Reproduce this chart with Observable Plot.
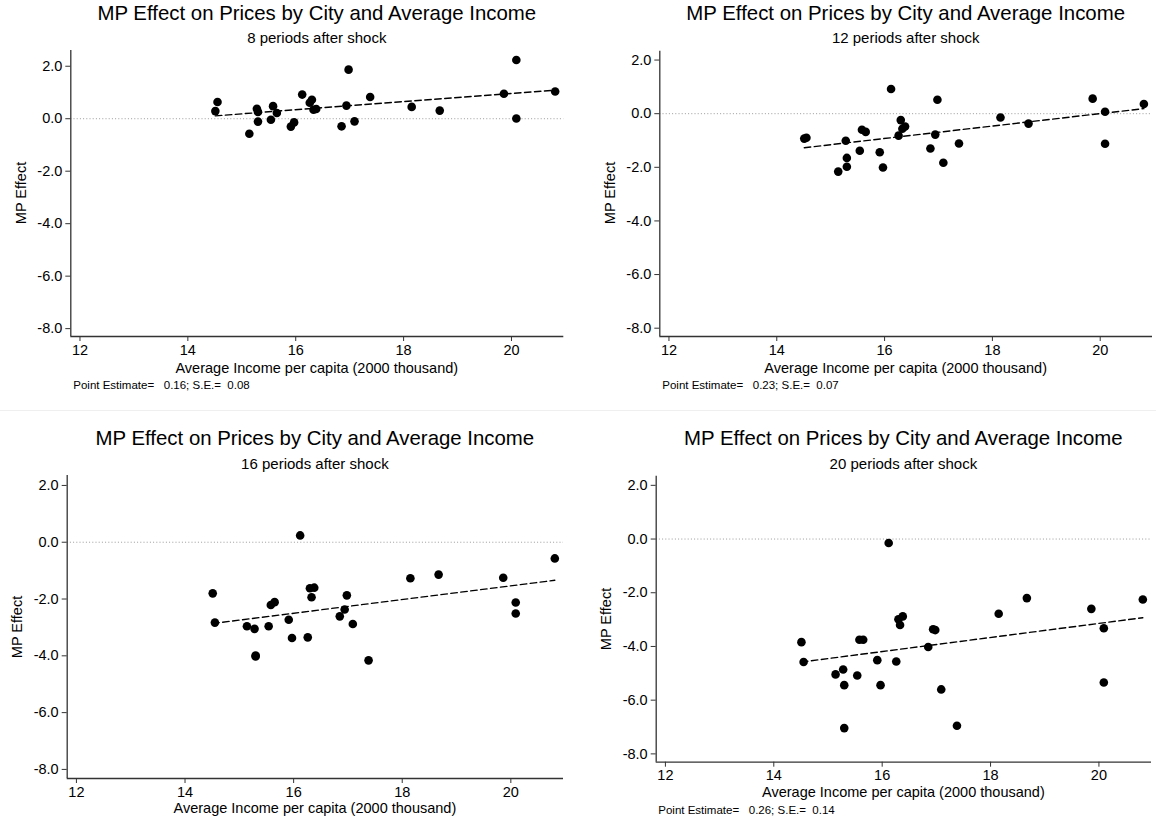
<!DOCTYPE html>
<html>
<head>
<meta charset="utf-8">
<script src="https://cdn.jsdelivr.net/npm/d3@7"></script>
<script src="https://cdn.jsdelivr.net/npm/@observablehq/plot@0.6"></script>
<style>
  html, body { margin: 0; padding: 0; background: #fff; }
  #root { position: relative; width: 1156px; height: 833px; background: #fff; overflow: hidden;
          font-family: "Liberation Sans", Arial, sans-serif; color: #000; }
  .lbl { position: absolute; white-space: pre; transform: translate(-50%, -50%); line-height: 1; }
  .cap { position: absolute; white-space: pre; transform: translate(0, -50%); line-height: 1; font-size: 11.5px; }
  .ylab { position: absolute; white-space: pre; transform: translate(-50%, -50%) rotate(-90deg); line-height: 1; font-size: 14.5px; }
  .panel { position: absolute; }
  .sep { position: absolute; left: 0; width: 1156px; height: 1px; background: #efefef; }
</style>
</head>
<body>
<div id="root"></div>
<script>
// ---- Data ----
const income = [14.51, 14.55, 15.14, 15.28, 15.30, 15.30, 15.54, 15.58, 15.65, 15.91, 15.97, 16.12, 16.26, 16.30,
                16.33, 16.38, 16.85, 16.94, 16.98, 17.09, 17.38, 18.15, 18.67, 19.86, 20.09, 20.09, 20.81];

const effect8  = [0.29, 0.64, -0.57, 0.38, 0.26, -0.11, -0.04, 0.48, 0.22, -0.30, -0.14, 0.92, 0.61, 0.72,
                  0.34, 0.37, -0.29, 0.50, 1.87, -0.10, 0.83, 0.45, 0.31, 0.95, 2.24, 0.01, 1.04];
const effect12 = [-0.93, -0.90, -2.16, -1.01, -1.65, -1.98, -1.38, -0.60, -0.68, -1.44, -2.01, 0.92, -0.82, -0.24,
                  -0.56, -0.48, -1.30, -0.78, 0.52, -1.83, -1.11, -0.14, -0.37, 0.56, 0.07, -1.12, 0.36];
const effect16 = [-1.80, -2.83, -2.96, -3.05, -3.99, -4.02, -2.96, -2.21, -2.11, -2.73, -3.37, 0.24, -3.35, -1.62,
                  -1.94, -1.60, -2.61, -2.37, -1.87, -2.88, -4.16, -1.27, -1.14, -1.25, -2.12, -2.51, -0.57];
const effect20 = [-3.84, -4.58, -5.04, -4.86, -5.44, -7.04, -5.08, -3.75, -3.75, -4.51, -5.44, -0.15, -4.56, -2.99,
                  -3.20, -2.88, -4.02, -3.36, -3.39, -5.60, -6.95, -2.78, -2.20, -2.60, -3.32, -5.34, -2.25];

// fitted line (endpoints)
const fitIncome = [14.51, 20.81];
const fit8  = [0.11, 1.09];
const fit12 = [-1.27, 0.19];
const fit16 = [-2.86, -1.34];
const fit20 = [-4.58, -2.93];

const periods = ["8", "12", "16", "20"];
const captions = ["Point Estimate=   0.16; S.E.=  0.08", "Point Estimate=   0.23; S.E.=  0.07", null,
                  "Point Estimate=   0.26; S.E.=  0.14"];
const xTicks = [12, 14, 16, 18, 20];
const yTicks = [2, 0, -2, -4, -6, -8];
const titleText = "MP Effect on Prices by City and Average Income";
const xTitle = "Average Income per capita (2000 thousand)";
const yTitle = "MP Effect";

// ---- Layout (page pixel positions of each panel) ----
const xDomain = [11.83, 20.97];
const panels = [
  {eff: effect8,  fit: fit8,  left: 0,   top: 40,  w: 580, h: 320, mL: 70.3, mR: 16.7, mT: 10,   mB: 24,   yDom: [-8.3, 2.6],
   cx: 316.8, tY: 13.3, sY: 36.7, xlY: 368.3, ylX: 20.5, ylY: 193, capX: 73.3, capY: 386},
  {eff: effect12, fit: fit12, left: 580, top: 40,  w: 576, h: 320, mL: 79.3, mR: 4,    mT: 10.7, mB: 24,   yDom: [-8.31, 2.33],
   cx: 905.7, tY: 13.3, sY: 36.7, xlY: 368.3, ylX: 609.5, ylY: 193, capX: 662.3, capY: 386},
  {eff: effect16, fit: fit16, left: 0,   top: 465, w: 580, h: 340, mL: 66.7, mR: 17,   mT: 10,   mB: 27,   yDom: [-8.32, 2.35],
   cx: 314.9, tY: 438.3, sY: 462.7, xlY: 808, ylX: 16.7, ylY: 626.5, capX: 0, capY: 0},
  {eff: effect20, fit: fit20, left: 580, top: 465, w: 576, h: 320, mL: 75.7, mR: 5,    mT: 10.7, mB: 23.3, yDom: [-8.31, 2.34],
   cx: 903.4, tY: 438.3, sY: 462.7, xlY: 791.7, ylX: 605.7, ylY: 618.7, capX: 658.3, capY: 810.7}
];

const root = document.getElementById("root");
const sep = document.createElement("div");
sep.className = "sep"; sep.style.top = "410px";
root.appendChild(sep);

function addText(cls, txt, x, y, extra) {
  const d = document.createElement("div");
  d.className = cls;
  d.textContent = txt;
  d.style.left = x + "px";
  d.style.top = y + "px";
  if (extra) Object.assign(d.style, extra);
  root.appendChild(d);
}

panels.forEach((p, i) => {
  const pts = income.map((x, k) => ({income: x, effect: p.eff[k]}));
  const fit = fitIncome.map((x, k) => ({income: x, effect: p.fit[k]}));
  const chart = Plot.plot({
    width: p.w, height: p.h,
    marginLeft: p.mL, marginRight: p.mR, marginTop: p.mT, marginBottom: p.mB,
    style: {fontFamily: '"Liberation Sans", Arial, sans-serif', fontSize: "14.5px", color: "#000", background: "transparent", overflow: "visible"},
    x: {type: "linear", domain: xDomain},
    y: {type: "linear", domain: p.yDom},
    marks: [
      Plot.ruleY([0], {stroke: "#9a9a9a", strokeWidth: 1, strokeDasharray: "1,2.2"}),
      Plot.line(fit, {x: "income", y: "effect", stroke: "#000", strokeWidth: 1.4, strokeDasharray: "6.5,3.5"}),
      Plot.dot(pts, {x: "income", y: "effect", r: 4.3, fill: "#000", stroke: "none"}),
      Plot.ruleX([xDomain[0]], {stroke: "#333", strokeWidth: 1.3}),
      Plot.ruleY([p.yDom[0]], {stroke: "#333", strokeWidth: 1.3}),
      Plot.axisX({ticks: xTicks, tickSize: 5, tickPadding: 3, stroke: "#333", label: null, tickFormat: d => String(d)}),
      Plot.axisY({ticks: yTicks, tickSize: 5, tickPadding: 3.5, stroke: "#333", label: null, tickFormat: d => d.toFixed(1)})
    ]
  });
  chart.classList.add("panel");
  chart.style.left = p.left + "px";
  chart.style.top = p.top + "px";
  root.appendChild(chart);

  addText("lbl", titleText, p.cx, p.tY, {fontSize: "20.4px"});
  addText("lbl", periods[i] + " periods after shock", p.cx, p.sY, {fontSize: "15px"});
  addText("lbl", xTitle, p.cx, p.xlY, {fontSize: "14.5px"});
  addText("ylab", yTitle, p.ylX, p.ylY);
  if (captions[i]) addText("cap", captions[i], p.capX, p.capY);
});
</script>
</body>
</html>
